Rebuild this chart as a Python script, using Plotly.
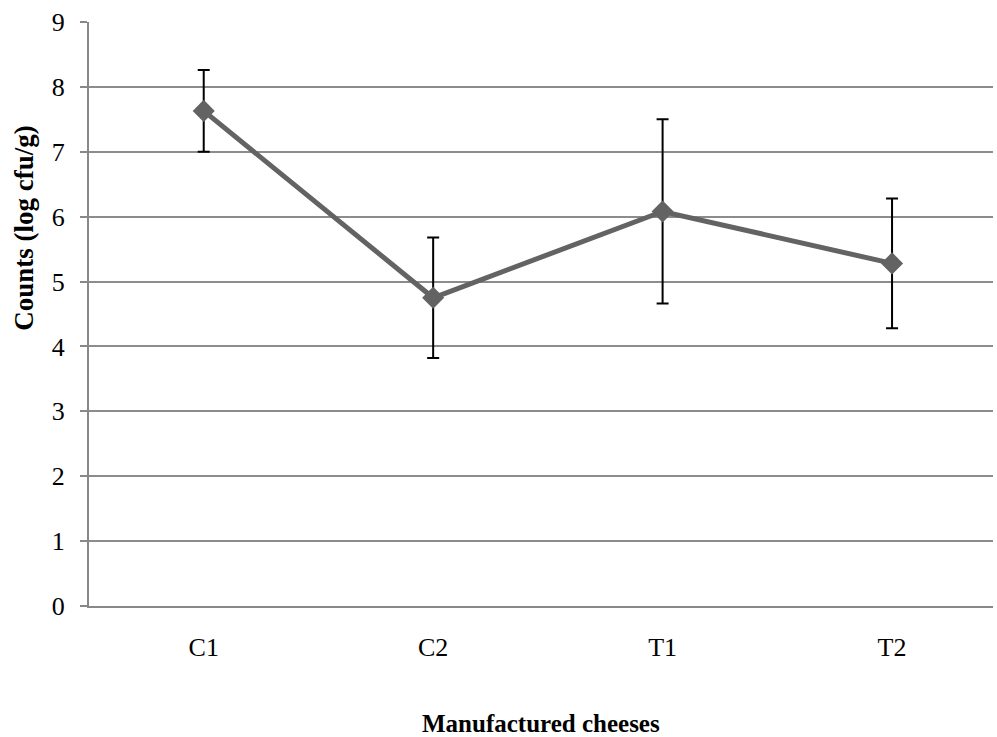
import plotly.graph_objects as go

categories = ["C1", "C2", "T1", "T2"]
counts = [7.63, 4.75, 6.08, 5.28]
errors = [0.63, 0.93, 1.42, 1.00]
y_ticks = [0, 1, 2, 3, 4, 5, 6, 7, 8, 9]

FONT = "Liberation Serif, Times New Roman, serif"

W, H = 997, 737
L, R, T, B = 89, 4, 22, 130.5
plot_h = H - T - B

fig = go.Figure()
fig.add_trace(go.Scatter(
    x=list(range(len(categories))),
    y=counts,
    mode="lines+markers",
    line=dict(color="#636363", width=5),
    marker=dict(symbol="diamond", size=17, color="#636363"),
    error_y=dict(type="data", array=errors, visible=True, color="black",
                 thickness=2, width=6),
    showlegend=False,
    hoverinfo="skip",
))

fig.update_layout(
    width=W, height=H,
    margin=dict(l=L, r=R, t=T, b=B, pad=0),
    paper_bgcolor="white", plot_bgcolor="white",
    font=dict(family=FONT, color="black", size=26),
    xaxis=dict(
        range=[-0.5, 3.44],
        tickmode="array",
        tickvals=list(range(len(categories))),
        ticktext=categories,
        showgrid=False, zeroline=False,
        showline=True, linecolor="#888888", linewidth=2,
        ticks="", ticklabelstandoff=17,
        tickfont=dict(size=26, family=FONT),
    ),
    yaxis=dict(
        range=[0, 9],
        tickmode="array", tickvals=y_ticks,
        showgrid=True, gridcolor="#8c8c8c", gridwidth=1.5,
        zeroline=False,
        showline=True, linecolor="#888888", linewidth=2,
        ticks="outside", ticklen=7, tickcolor="#888888", tickwidth=1.5,
        ticklabelstandoff=10,
        tickfont=dict(size=26, family=FONT),
    ),
    annotations=[
        dict(text="<b>Manufactured cheeses</b>", xref="paper", yref="paper",
             x=0.5, y=0, xanchor="center", yanchor="middle",
             yshift=-(724 - (H - B)), showarrow=False,
             font=dict(size=25, family=FONT, color="black")),
        dict(text="<b>Counts (log cfu/g)</b>", xref="paper", yref="paper",
             x=0, y=((H - B) - 228) / plot_h, xanchor="center", yanchor="middle",
             xshift=-(L - 24), textangle=-90, showarrow=False,
             font=dict(size=27, family=FONT, color="black")),
    ],
)

fig.write_html("out.html", config={"displayModeBar": False},
               post_script="document.body.style.margin='0';")
